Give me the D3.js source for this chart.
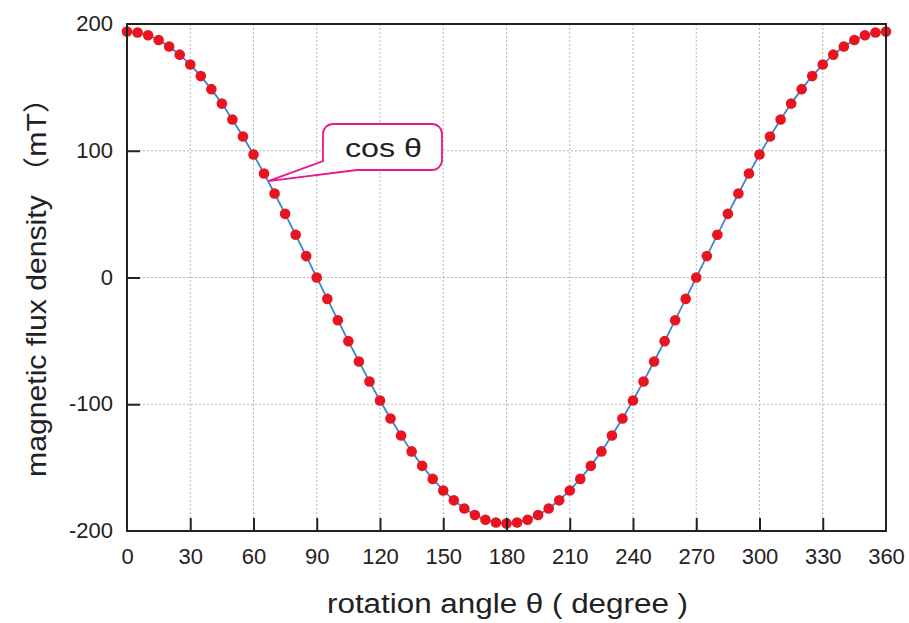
<!DOCTYPE html>
<html>
<head>
<meta charset="utf-8">
<script src="https://cdn.jsdelivr.net/npm/d3@7"></script>
<style>
  body { margin: 0; background: #fff; }
  svg { font-family: "Liberation Sans", Arial, "Noto Sans CJK JP", sans-serif; }
</style>
</head>
<body>
<div id="chart"></div>
<script>
// rotation angle (degree)
const angles = [
  0, 5, 10, 15, 20, 25, 30, 35, 40, 45, 50, 55, 60, 65, 70, 75, 80, 85,
  90, 95, 100, 105, 110, 115, 120, 125, 130, 135, 140, 145, 150, 155, 160, 165, 170, 175,
  180, 185, 190, 195, 200, 205, 210, 215, 220, 225, 230, 235, 240, 245, 250, 255, 260, 265,
  270, 275, 280, 285, 290, 295, 300, 305, 310, 315, 320, 325, 330, 335, 340, 345, 350, 355, 360
];
// magnetic flux density (mT)
const flux = [
  194, 193.3, 191.1, 187.4, 182.3, 175.8, 168.0, 158.9, 148.6, 137.2, 124.7, 111.3, 97.0, 82.0, 66.3, 50.2, 33.7, 16.9,
  0, -16.9, -33.7, -50.2, -66.3, -82.0, -97.0, -111.3, -124.7, -137.2, -148.6, -158.9, -168.0, -175.8, -182.3, -187.4, -191.1, -193.3,
  -194, -193.3, -191.1, -187.4, -182.3, -175.8, -168.0, -158.9, -148.6, -137.2, -124.7, -111.3, -97.0, -82.0, -66.3, -50.2, -33.7, -16.9,
  0, 16.9, 33.7, 50.2, 66.3, 82.0, 97.0, 111.3, 124.7, 137.2, 148.6, 158.9, 168.0, 175.8, 182.3, 187.4, 191.1, 193.3, 194
];
const xTicks = [0, 30, 60, 90, 120, 150, 180, 210, 240, 270, 300, 330, 360];
const yTicks = [-200, -100, 0, 100, 200];
const calloutLabel = "cos θ";
const calloutAngle = 67;   // where the callout points
const calloutValue = 76;

const width = 909, height = 623;
const margin = { top: 24, right: 23, bottom: 92, left: 127 };

const svg = d3.select("#chart").append("svg")
  .attr("width", width).attr("height", height);

const x = d3.scaleLinear().domain([0, 360]).range([margin.left, width - margin.right]);
const y = d3.scaleLinear().domain([-200, 200]).range([height - margin.bottom, margin.top]);

// grid
const grid = svg.append("g").attr("stroke", "#b5b5b5").attr("stroke-width", 1)
  .attr("stroke-dasharray", "2,2");
grid.selectAll(".vg").data(xTicks.slice(1, -1)).join("line")
  .attr("x1", d => x(d)).attr("x2", d => x(d))
  .attr("y1", y(200)).attr("y2", y(-200));
grid.selectAll(".hg").data(yTicks.slice(1, -1)).join("line")
  .attr("x1", x(0)).attr("x2", x(360))
  .attr("y1", d => y(d)).attr("y2", d => y(d));

// line + points
const line = d3.line().x((d, i) => x(angles[i])).y(d => y(d));
svg.append("path").datum(flux)
  .attr("fill", "none").attr("stroke", "#3f84cf").attr("stroke-width", 1.8)
  .attr("d", line);
svg.append("g").selectAll("circle").data(flux).join("circle")
  .attr("cx", (d, i) => x(angles[i])).attr("cy", d => y(d))
  .attr("r", 5.3).attr("fill", "#e8141f");

// frame
svg.append("rect")
  .attr("x", x(0)).attr("y", y(200))
  .attr("width", x(360) - x(0)).attr("height", y(-200) - y(200))
  .attr("fill", "none").attr("stroke", "#222").attr("stroke-width", 2);

// axes (inner ticks)
const xAxis = d3.axisBottom(x).tickValues(xTicks).tickSizeInner(-13).tickSizeOuter(0)
  .tickFormat(d => String(d));
const gx = svg.append("g").attr("transform", `translate(0,${y(-200)})`).call(xAxis);
const yAxis = d3.axisLeft(y).tickValues(yTicks).tickSizeInner(-13).tickSizeOuter(0)
  .tickPadding(14).tickFormat(d => String(d));
const gy = svg.append("g").attr("transform", `translate(${x(0)},0)`).call(yAxis);
[gx, gy].forEach(g => {
  g.select(".domain").remove();
  g.selectAll(".tick line").attr("stroke", "#222").attr("stroke-width", 2);
  g.selectAll(".tick text").attr("fill", "#222").style("font-size", "22px")
    .style("font-family", "'Liberation Sans', Arial, sans-serif");
});
gy.selectAll(".tick line").filter(d => d === 200 || d === -200).remove();
gx.selectAll(".tick line").filter(d => d === 0 || d === 360).remove();
gx.selectAll(".tick text").attr("y", 33).attr("dy", 0);
gy.selectAll(".tick text").attr("dy", "0.3em");

// axis titles
svg.append("text")
  .attr("x", 327).attr("y", 613)
  .attr("textLength", 361).attr("lengthAdjust", "spacingAndGlyphs")
  .attr("fill", "#222").style("font-size", "27px")
  .text("rotation angle θ ( degree )");
svg.append("text")
  .attr("transform", `translate(46,477) rotate(-90)`)
  .attr("textLength", 394).attr("lengthAdjust", "spacingAndGlyphs")
  .attr("fill", "#222").style("font-size", "27px")
  .text("magnetic flux density （mT）");

// callout
const bx0 = 323, by0 = 124, bx1 = 442, by1 = 170, r = 10;
const tipX = x(calloutAngle), tipY = y(calloutValue);
const callout = d3.path();
callout.moveTo(bx0 + r, by0);
callout.lineTo(bx1 - r, by0);
callout.arcTo(bx1, by0, bx1, by0 + r, r);
callout.lineTo(bx1, by1 - r);
callout.arcTo(bx1, by1, bx1 - r, by1, r);
callout.lineTo(357, by1);
callout.lineTo(tipX, tipY);
callout.lineTo(bx0, 161);
callout.lineTo(bx0, by0 + r);
callout.arcTo(bx0, by0, bx0 + r, by0, r);
callout.closePath();
svg.append("path").attr("d", callout.toString())
  .attr("fill", "#fff").attr("stroke", "#e8198b").attr("stroke-width", 1.8);
svg.append("text")
  .attr("x", 345).attr("y", 157)
  .attr("textLength", 77).attr("lengthAdjust", "spacingAndGlyphs")
  .attr("fill", "#222").style("font-size", "26px")
  .text(calloutLabel);
</script>
</body>
</html>
